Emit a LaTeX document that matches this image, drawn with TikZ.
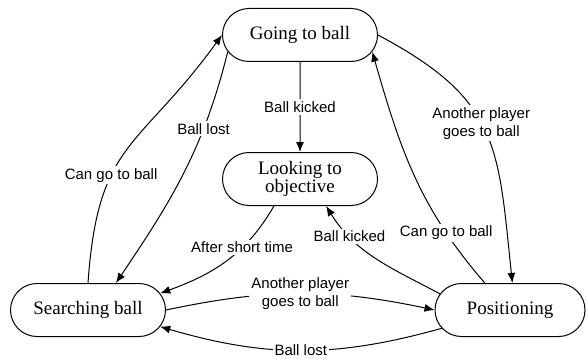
\documentclass[tikz,border=0pt]{standalone}
\usepackage{fontspec}
\setmainfont{Liberation Serif}
\newfontfamily\lblfont{Liberation Sans}
\usetikzlibrary{shapes.misc, arrows.meta, positioning}

\begin{document}
\begin{tikzpicture}[
  x=0.5pt, y=-0.5pt,
  node distance=45pt,
  statebox/.style={draw, rounded rectangle, line width=0.5pt, minimum width=79.5pt, minimum height=26.5pt, inner sep=1pt, align=center, font=\fontsize{9.5}{9}\selectfont},
  lbl/.style={fill=white, inner sep=1pt, align=center, font=\lblfont\fontsize{7.5}{9}\selectfont},
  arr/.style={-{Latex[length=5pt,width=4pt]}, line width=0.5pt}
]
\useasboundingbox (0,0) rectangle (587,358);

% states
\node[statebox] (going) at (300,35) {Going to ball};
\node[statebox, below=45pt of going] (looking) {Looking to\\objective};
\node[statebox] (searching) at (88,310) {Searching ball};
\node[statebox, minimum width=77pt] (positioning) at (510,310) {Positioning};

% transitions
\draw[arr] (going) -- node[lbl]{Ball kicked} (looking);
\draw[arr] (searching.north) to[out=86,in=234, looseness=1.3] node[lbl, pos=0.36]{Can go to ball} (going.west);
\draw[arr] (going.193) to[out=256,in=56] node[lbl, pos=0.3]{Ball lost} (searching.44);
\draw[arr] (looking.226) to[out=240,in=20] node[lbl, pos=0.35]{After short time} (searching.13);
\draw[arr] (searching.east) to[bend left=12] node[lbl]{Another player\\goes to ball} (positioning.west);
\draw[arr] (positioning.195) to[bend left=16] node[lbl]{Ball lost} (searching.-13);
\draw[arr] (positioning.167) to[out=152,in=-58] node[lbl, pos=0.75]{Ball kicked} (looking.-46);
\draw[arr] (positioning.133) to[out=131,in=-74] node[lbl, pos=0.23]{Can go to ball} (going.-13);
\draw[arr] (going.east) to[out=-28,in=96, looseness=1.25] node[lbl, pos=0.46]{Another player\\goes to ball} (positioning.85);

\end{tikzpicture}
\end{document}
